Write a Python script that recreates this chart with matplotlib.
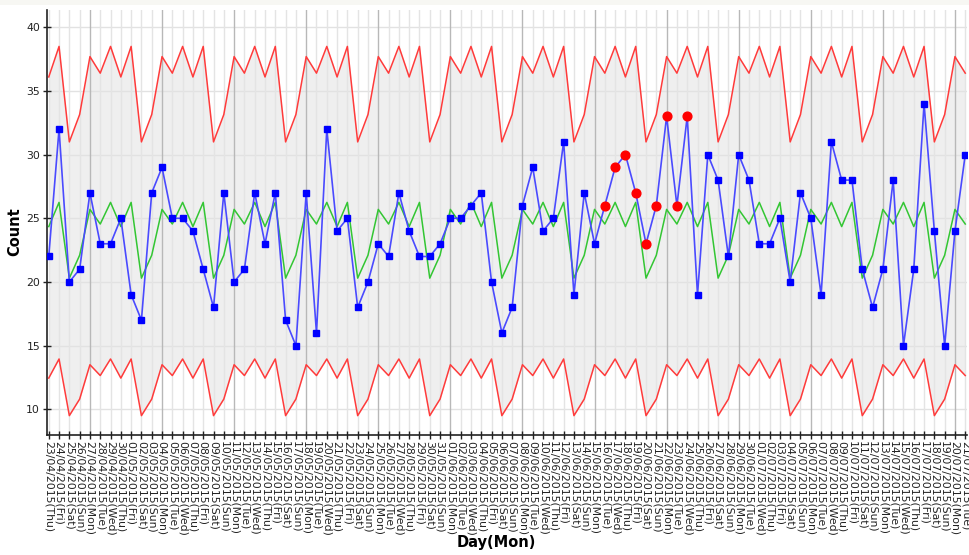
import matplotlib
matplotlib.use('Agg')
import matplotlib.pyplot as plt
import pandas as pd

# ---- data ----
start_date = '2015-04-23'
end_date = '2015-07-21'
counts = [22, 32, 20, 21, 27, 23, 23, 25, 19, 17,
          27, 29, 25, 25, 24, 21, 18, 27, 20, 21,
          27, 23, 27, 17, 15, 27, 16, 32, 24, 25,
          18, 20, 23, 22, 27, 24, 22, 22, 23, 25,
          25, 26, 27, 20, 16, 18, 26, 29, 24, 25,
          31, 19, 27, 23, 26, 29, 30, 27, 23, 26,
          33, 26, 33, 19, 30, 28, 22, 30, 28, 23,
          23, 25, 20, 27, 25, 19, 31, 28, 28, 21,
          18, 21, 28, 15, 21, 34, 24, 15, 24, 30]
weekdays = ['Mon', 'Tue', 'Wed', 'Thu', 'Fri', 'Sat', 'Sun']
expected_by_day = [25.7, 24.55, 26.25, 24.35, 26.25, 20.3, 22.1]
upper_by_day = [37.7, 36.4, 38.5, 36.1, 38.5, 31.0, 33.15]
lower_by_day = [13.5, 12.65, 13.95, 12.45, 13.95, 9.5, 10.8]
anomaly_days = ['16/06/2015', '17/06/2015', '18/06/2015', '19/06/2015',
                '20/06/2015', '21/06/2015', '22/06/2015', '23/06/2015',
                '24/06/2015']

dates = pd.date_range(start_date, end_date, freq='D')
day_labels = [d.strftime('%d/%m/%Y') + '(' + weekdays[d.weekday()] + ')' for d in dates]
x = list(range(len(dates)))
expected = [expected_by_day[d.weekday()] for d in dates]
upper = [upper_by_day[d.weekday()] for d in dates]
lower = [lower_by_day[d.weekday()] for d in dates]
is_anom = [d.strftime('%d/%m/%Y') in anomaly_days for d in dates]

# ---- figure ----
W, H = 969, 555
fig = plt.figure(figsize=(W / 100, H / 100), dpi=100)
fig.patch.set_facecolor('white')
# thin off-white band at top
fig.patches.append(plt.Rectangle((0, 1 - 5 / H), 1, 5 / H, transform=fig.transFigure,
                                 facecolor='#f7f7f3', edgecolor='none', zorder=0))

L, R, B, T = 47, 967, 435, 10
ax = fig.add_axes([L / W, 1 - B / H, (R - L) / W, (B - T) / H])
ax.set_facecolor('white')

ax.fill_between(x, lower, upper, color='#efefef', zorder=0.5, linewidth=0)

# grid
for yv in range(10, 41, 5):
    ax.axhline(yv, color='#e2e2e2', linewidth=1.0, zorder=1)
for i, d in enumerate(dates):
    if d.weekday() == 0:
        ax.axvline(i, color='#b8b8b8', linewidth=1.0, zorder=1)
    else:
        ax.axvline(i, color='#e4e4e4', linewidth=1.0, zorder=1)

ax.plot(x, upper, color='#ff3b3b', linewidth=1.1, zorder=2)
ax.plot(x, lower, color='#ff3b3b', linewidth=1.1, zorder=2)
ax.plot(x, expected, color='#33c633', linewidth=1.1, zorder=2)
ax.plot(x, counts, color='#4a4aff', linewidth=1.2, zorder=3)

nx = [xi for xi, a in zip(x, is_anom) if not a]
ny = [c for c, a in zip(counts, is_anom) if not a]
ax.plot(nx, ny, linestyle='none', marker='s', markersize=5.0,
        markerfacecolor='#0000ff', markeredgecolor='#0000ff', zorder=4)
axx = [xi for xi, a in zip(x, is_anom) if a]
axy = [c for c, a in zip(counts, is_anom) if a]
ax.plot(axx, axy, linestyle='none', marker='o', markersize=6.3,
        markerfacecolor='#ff0000', markeredgecolor='#ff0000', zorder=5)

ax.set_xlim(-0.17, len(dates) - 1 + 0.17)
ax.set_ylim(7.98, 41.36)

ax.set_yticks(range(10, 41, 5))
ax.set_xticks(x)
ax.set_xticklabels(day_labels, rotation=270, ha='center', va='top', fontsize=7.8)
ax.tick_params(axis='both', direction='inout', length=6, width=1, color='#222222',
               labelsize=7.8, labelcolor='#222222')
ax.tick_params(axis='x', pad=1)
ax.tick_params(axis='y', pad=2)

for s in ['top', 'right']:
    ax.spines[s].set_visible(False)
for s in ['left', 'bottom']:
    ax.spines[s].set_color('#222222')
    ax.spines[s].set_linewidth(1.2)

ax.set_xlabel('Day(Mon)', fontsize=10.5, fontweight='bold')
ax.set_ylabel('Count', fontsize=10.5, fontweight='bold')
ax.xaxis.set_label_coords((496 - L) / (R - L), -(543 - B) / (B - T))
ax.yaxis.set_label_coords(-(47 - 15) / (R - L), (B - 232) / (B - T))
ax.xaxis.label.set_va('center')
ax.yaxis.label.set_va('center')

fig.savefig('out.png', dpi=100)
